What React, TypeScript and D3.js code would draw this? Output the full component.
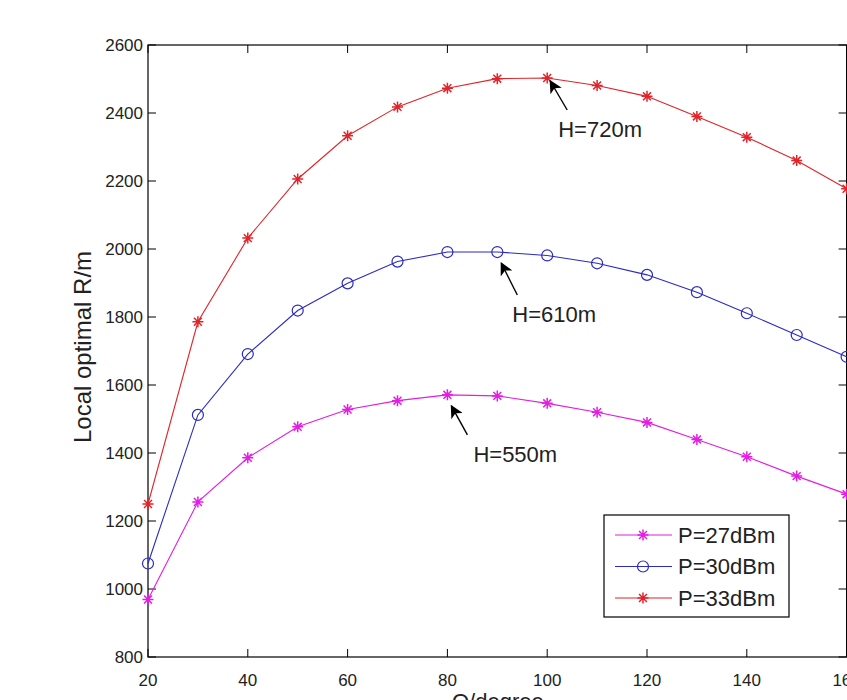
import React, { useEffect, useRef } from "react";
import * as d3 from "d3";

// theta in degrees
const thetas = [20, 30, 40, 50, 60, 70, 80, 90, 100, 110, 120, 130, 140, 150, 160];

const p27 = [969, 1256, 1386, 1477, 1528, 1554, 1571, 1568, 1546, 1520, 1490, 1440, 1389, 1332, 1279];
const p30 = [1075, 1512, 1691, 1819, 1899, 1963, 1991, 1991, 1981, 1958, 1924, 1873, 1811, 1747, 1683];
const p33 = [1250, 1786, 2032, 2206, 2333, 2418, 2473, 2501, 2503, 2481, 2449, 2390, 2329, 2260, 2177];

const seriesNames = ["P=27dBm", "P=30dBm", "P=33dBm"];
const seriesColors = ["#e21ee2", "#2b2bc0", "#e0242a"];
const seriesMarkers = ["star", "circle", "star"];

const xTicks = [20, 40, 60, 80, 100, 120, 140, 160];
const yTicks = [800, 1000, 1200, 1400, 1600, 1800, 2000, 2200, 2400, 2600];

// peak annotations: series index, theta of the peak, label
const notes = [
  { series: 2, theta: 100, label: "H=720m" },
  { series: 1, theta: 90, label: "H=610m" },
  { series: 0, theta: 80, label: "H=550m" },
];
// arrow / label offsets from the marked point (px)
const noteOffsets = [
  { tip: [3, 3], tail: [20, 32], text: [11, 59] },
  { tip: [4, 11], tail: [20, 43], text: [15, 70] },
  { tip: [4, 11], tail: [20, 40], text: [26, 67] },
];

const FONT = "'Liberation Sans', Arial, Helvetica, sans-serif";

export default function App() {
  const ref = useRef<SVGSVGElement | null>(null);
  const width = 847;
  const height = 700;
  const margin = { top: 45, right: 0.4, bottom: 43, left: 148 };

  useEffect(() => {
    drawChart();
  }, []);

  function drawChart() {
    const svg = d3.select(ref.current);
    svg.selectAll("*").remove();

    const x = d3
      .scaleLinear()
      .domain([20, 160])
      .range([margin.left, width - margin.right]);
    const y = d3
      .scaleLinear()
      .domain([800, 2600])
      .range([height - margin.bottom, margin.top]);

    const x0 = x.range()[0];
    const x1 = x.range()[1];
    const y0 = y.range()[0];
    const y1 = y.range()[1];

    svg
      .append("defs")
      .append("marker")
      .attr("id", "arrowhead")
      .attr("viewBox", "0 0 10 10")
      .attr("refX", 9)
      .attr("refY", 5)
      .attr("markerUnits", "userSpaceOnUse")
      .attr("markerWidth", 17)
      .attr("markerHeight", 13)
      .attr("orient", "auto")
      .append("path")
      .attr("d", "M0,0L10,5L0,10L2.5,5Z")
      .attr("fill", "#000");

    // axes box
    svg
      .append("rect")
      .attr("x", x0)
      .attr("y", y1)
      .attr("width", x1 - x0)
      .attr("height", y0 - y1)
      .attr("fill", "none")
      .attr("stroke", "#000")
      .attr("stroke-width", 1.2);

    const tickLen = 8;
    const ticks = svg.append("g").attr("stroke", "#000").attr("stroke-width", 1);
    xTicks.forEach((t) => {
      ticks.append("line").attr("x1", x(t)).attr("x2", x(t)).attr("y1", y0).attr("y2", y0 - tickLen);
      ticks.append("line").attr("x1", x(t)).attr("x2", x(t)).attr("y1", y1).attr("y2", y1 + tickLen);
    });
    yTicks.forEach((t) => {
      ticks.append("line").attr("x1", x0).attr("x2", x0 + tickLen).attr("y1", y(t)).attr("y2", y(t));
      ticks.append("line").attr("x1", x1).attr("x2", x1 - tickLen).attr("y1", y(t)).attr("y2", y(t));
    });

    svg
      .append("g")
      .selectAll("text")
      .data(xTicks)
      .enter()
      .append("text")
      .attr("x", (d) => x(d))
      .attr("y", y0 + 29)
      .attr("text-anchor", "middle")
      .style("font-family", FONT)
      .style("font-size", "17px")
      .style("fill", "#222")
      .text((d) => d);

    svg
      .append("g")
      .selectAll("text")
      .data(yTicks)
      .enter()
      .append("text")
      .attr("x", x0 - 5)
      .attr("y", (d) => y(d))
      .attr("dy", "0.35em")
      .attr("text-anchor", "end")
      .style("font-family", FONT)
      .style("font-size", "17px")
      .style("fill", "#222")
      .text((d) => d);

    // axis titles
    svg
      .append("text")
      .attr("transform", `translate(91, 347) rotate(-90)`)
      .attr("text-anchor", "middle")
      .style("font-family", FONT)
      .style("font-size", "24px")
      .style("fill", "#222")
      .text("Local optimal R/m");

    svg
      .append("text")
      .attr("x", 452)
      .attr("y", 709)
      .style("font-family", FONT)
      .style("font-size", "22px")
      .style("fill", "#222")
      .text("\u0398/degree");

    const allSeries = [p27, p30, p33];
    const line = d3
      .line<number>()
      .x((_, i) => x(thetas[i]))
      .y((d) => y(d));

    const starPath = (r: number) => {
      const k = r * 0.72;
      return `M${-r},0L${r},0M0,${-r}L0,${r}M${-k},${-k}L${k},${k}M${-k},${k}L${k},${-k}`;
    };

    const drawMarker = (g: any, kind: string, color: string, cx: number, cy: number) => {
      if (kind === "circle") {
        g.append("circle")
          .attr("cx", cx)
          .attr("cy", cy)
          .attr("r", 5.5)
          .attr("fill", "none")
          .attr("stroke", color)
          .attr("stroke-width", 1.2);
      } else {
        g.append("path")
          .attr("d", starPath(5.5))
          .attr("transform", `translate(${cx},${cy})`)
          .attr("fill", "none")
          .attr("stroke", color)
          .attr("stroke-width", 1.5);
      }
    };

    allSeries.forEach((vals, si) => {
      const g = svg.append("g");
      g.append("path")
        .attr("d", line(vals))
        .attr("fill", "none")
        .attr("stroke", seriesColors[si])
        .attr("stroke-width", 1.1);
      vals.forEach((v, i) => drawMarker(g, seriesMarkers[si], seriesColors[si], x(thetas[i]), y(v)));
    });

    // peak annotations
    notes.forEach((n, i) => {
      const vals = allSeries[n.series];
      const px = x(n.theta);
      const py = y(vals[thetas.indexOf(n.theta)]);
      const o = noteOffsets[i];
      svg
        .append("line")
        .attr("x1", px + o.tail[0])
        .attr("y1", py + o.tail[1])
        .attr("x2", px + o.tip[0])
        .attr("y2", py + o.tip[1])
        .attr("stroke", "#000")
        .attr("stroke-width", 1.4)
        .attr("marker-end", "url(#arrowhead)");
      svg
        .append("text")
        .attr("x", px + o.text[0])
        .attr("y", py + o.text[1])
        .style("font-family", FONT)
        .style("font-size", "22px")
        .style("fill", "#222")
        .text(n.label);
    });

    // legend
    const lg = svg.append("g").attr("transform", "translate(604, 515)");
    lg.append("rect")
      .attr("width", 185)
      .attr("height", 102)
      .attr("fill", "#fff")
      .attr("stroke", "#000")
      .attr("stroke-width", 1.2);
    seriesNames.forEach((name, i) => {
      const ry = 20 + i * 31.5;
      lg.append("line")
        .attr("x1", 11)
        .attr("x2", 68)
        .attr("y1", ry)
        .attr("y2", ry)
        .attr("stroke", seriesColors[i])
        .attr("stroke-width", 1.1);
      drawMarker(lg, seriesMarkers[i], seriesColors[i], 39, ry);
      lg.append("text")
        .attr("x", 74)
        .attr("y", ry)
        .attr("dy", "0.36em")
        .style("font-family", FONT)
        .style("font-size", "22px")
        .style("fill", "#222")
        .text(name);
    });
  }

  return (
    <div style={{ position: "absolute", left: 0, top: 0 }}>
      <svg ref={ref} width={width} height={height} style={{ display: "block", background: "#fff" }} />
    </div>
  );
}
